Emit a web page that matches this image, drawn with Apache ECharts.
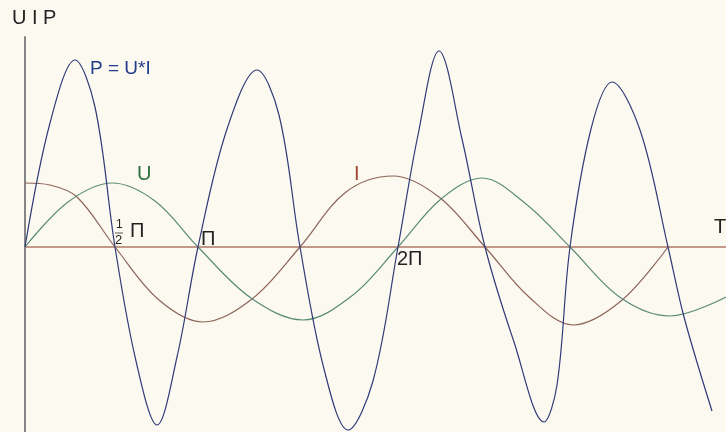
<!DOCTYPE html>
<html>
<head>
<meta charset="utf-8">
<script src="https://cdn.jsdelivr.net/npm/echarts@6/dist/echarts.min.js"></script>
<style>
  html, body { margin: 0; padding: 0; background: #fcf9f1; }
  #chart { width: 726px; height: 432px; }
</style>
</head>
<body>
<div id="chart"></div>
<script>
// time axis (0 = origin); zero crossings, extremes and flank points
const pTime = [0, 25, 50, 70, 90, 111, 132, 152, 173, 202, 232, 254, 275, 299, 323, 348, 373, 393, 414, 437, 460, 489, 519, 532, 545, 566, 587, 615, 643, 659, 687];
const pValue = [0, 124, 187, 140, 0, -114, -178, -110, 0, 118, 177, 132, 0, -122, -183, -134, 0, 112, 196, 108, 0, -95, -175, -138, 0, 118, 165, 117, 0, -70, -164];

const uTime = [0, 43, 87, 130, 173, 226, 278, 328, 373, 416, 457, 501, 545, 596, 645, 701];
const uValue = [0, 45, 64, 46, 0, -51, -73, -48, 0, 48, 69, 43, 0, -51, -69, -50];

const iTime = [0, 25, 52, 90, 134, 178, 227, 275, 321, 368, 414, 460, 504, 548, 596, 643];
const iValue = [64, 62, 50, 0, -53, -75, -52, 0, 55, 71, 50, 0, -50, -78, -54, 0];

const pairs = (xs, ys) => xs.map((x, i) => [x, ys[i]]);

const chart = echarts.init(document.getElementById("chart"));

const labelFont = '"Liberation Sans", Arial, sans-serif';
const txt = (text, x, y, color, size) => ({
  type: "text",
  z: 100,
  style: { text, x, y, fill: color, font: `${size}px ${labelFont}`, verticalAlign: "top" },
});

const option = {
  backgroundColor: "#fcf9f1",
  animation: false,
  grid: { left: 25, right: 0, top: 37, bottom: 0, containLabel: false },
  xAxis: {
    type: "value",
    min: 0,
    max: 701,
    splitLine: { show: false },
    axisTick: { show: false },
    axisLabel: { show: false },
    axisLine: { show: true, onZero: true, lineStyle: { color: "#b07866", width: 1.5 } },
  },
  yAxis: {
    type: "value",
    min: -185,
    max: 210,
    splitLine: { show: false },
    axisTick: { show: false },
    axisLabel: { show: false },
    axisLine: { show: true, lineStyle: { color: "#858585", width: 2 } },
  },
  series: [
    {
      name: "I",
      type: "line",
      data: pairs(iTime, iValue),
      smooth: 0.35,
      showSymbol: false,
      lineStyle: { color: "#8c6458", width: 1.2 },
    },
    {
      name: "U",
      type: "line",
      data: pairs(uTime, uValue),
      smooth: 0.35,
      showSymbol: false,
      lineStyle: { color: "#5a8c78", width: 1.2 },
    },
    {
      name: "P",
      type: "line",
      data: pairs(pTime, pValue),
      smooth: 0.35,
      showSymbol: false,
      lineStyle: { color: "#2f3b78", width: 1.2 },
    },
  ],
  graphic: [
    txt("U I P", 12, 8, "#222222", 20),
    txt("P = U*I", 90, 59, "#1f3b8a", 19),
    txt("U", 137, 164, "#2d6e3c", 20),
    txt("I", 354, 164, "#a04530", 20),
    txt("1", 116, 219, "#222222", 12),
    { type: "line", z: 100, shape: { x1: 115, y1: 233, x2: 123, y2: 233 }, style: { stroke: "#555", lineWidth: 1 } },
    txt("2", 115, 234, "#222222", 13),
    txt("Π", 130, 221, "#222222", 20),
    txt("Π", 201, 229, "#222222", 20),
    txt("2Π", 397, 249, "#222222", 20),
    txt("T", 714, 217, "#222222", 20),
  ],
};

chart.setOption(option);
</script>
</body>
</html>
